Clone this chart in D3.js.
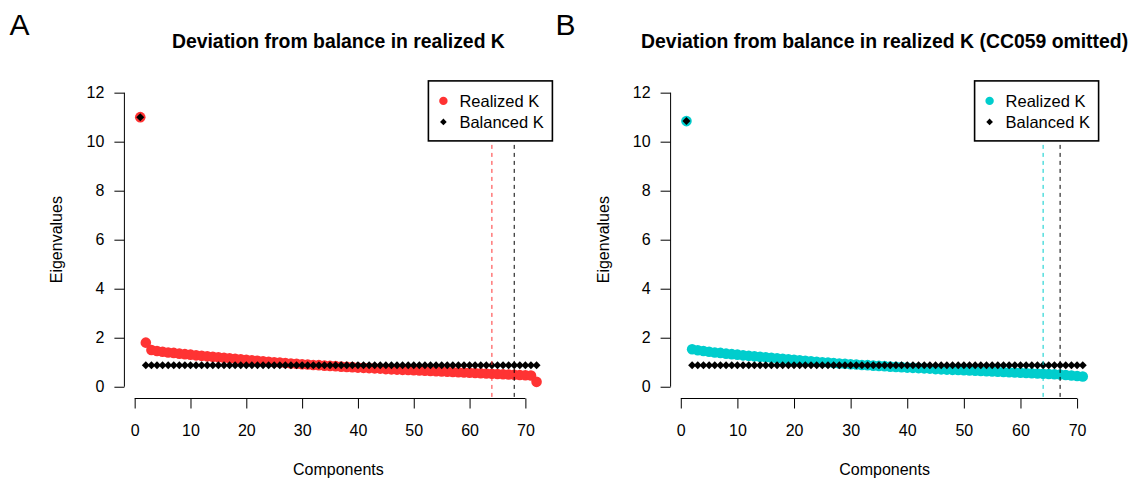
<!DOCTYPE html>
<html>
<head>
<meta charset="utf-8">
<script src="https://cdn.jsdelivr.net/npm/d3@7"></script>
<style>
  html, body { margin: 0; padding: 0; background: #fff; }
  svg { display: block; font-family: "Liberation Sans", Arial, Helvetica, sans-serif; }
</style>
</head>
<body>
<svg id="chart" width="1136" height="480"></svg>
<script>
// Eigenvalues of the realized and balanced K matrices, by component
const realizedA = [11.00, 1.80, 1.50, 1.46, 1.43, 1.40, 1.38, 1.35, 1.33, 1.31,
  1.28, 1.26, 1.24, 1.22, 1.20, 1.18, 1.16, 1.14, 1.12, 1.10,
  1.08, 1.06, 1.04, 1.02, 1.00, 0.99, 0.97, 0.95, 0.94, 0.92,
  0.91, 0.89, 0.88, 0.86, 0.85, 0.84, 0.82, 0.81, 0.80, 0.78,
  0.77, 0.76, 0.75, 0.74, 0.72, 0.71, 0.70, 0.69, 0.68, 0.67,
  0.66, 0.65, 0.64, 0.63, 0.62, 0.61, 0.60, 0.59, 0.58, 0.57,
  0.56, 0.55, 0.54, 0.53, 0.52, 0.51, 0.50, 0.49, 0.48, 0.47,
  0.46, 0.20];
const balancedA = [11.00, 0.88, 0.88, 0.88, 0.88, 0.88, 0.88, 0.88, 0.88, 0.88,
  0.88, 0.88, 0.88, 0.88, 0.88, 0.88, 0.88, 0.88, 0.88, 0.88,
  0.88, 0.88, 0.88, 0.88, 0.88, 0.88, 0.88, 0.88, 0.88, 0.88,
  0.88, 0.88, 0.88, 0.88, 0.88, 0.88, 0.88, 0.88, 0.88, 0.88,
  0.88, 0.88, 0.88, 0.88, 0.88, 0.88, 0.88, 0.88, 0.88, 0.88,
  0.88, 0.88, 0.88, 0.88, 0.88, 0.88, 0.88, 0.88, 0.88, 0.88,
  0.88, 0.88, 0.88, 0.88, 0.88, 0.88, 0.88, 0.88, 0.88, 0.88,
  0.88, 0.88];
const realizedB = [10.84, 1.53, 1.49, 1.46, 1.43, 1.40, 1.38, 1.35, 1.33, 1.31,
  1.28, 1.26, 1.24, 1.22, 1.20, 1.18, 1.16, 1.14, 1.12, 1.10,
  1.08, 1.06, 1.04, 1.02, 1.00, 0.99, 0.97, 0.95, 0.94, 0.92,
  0.91, 0.89, 0.88, 0.86, 0.85, 0.84, 0.82, 0.81, 0.80, 0.78,
  0.77, 0.76, 0.75, 0.74, 0.72, 0.71, 0.70, 0.69, 0.68, 0.67,
  0.66, 0.65, 0.64, 0.63, 0.62, 0.61, 0.60, 0.59, 0.58, 0.57,
  0.56, 0.55, 0.54, 0.53, 0.52, 0.51, 0.50, 0.48, 0.46, 0.44,
  0.42];
const balancedB = [10.84, 0.88, 0.88, 0.88, 0.88, 0.88, 0.88, 0.88, 0.88, 0.88,
  0.88, 0.88, 0.88, 0.88, 0.88, 0.88, 0.88, 0.88, 0.88, 0.88,
  0.88, 0.88, 0.88, 0.88, 0.88, 0.88, 0.88, 0.88, 0.88, 0.88,
  0.88, 0.88, 0.88, 0.88, 0.88, 0.88, 0.88, 0.88, 0.88, 0.88,
  0.88, 0.88, 0.88, 0.88, 0.88, 0.88, 0.88, 0.88, 0.88, 0.88,
  0.88, 0.88, 0.88, 0.88, 0.88, 0.88, 0.88, 0.88, 0.88, 0.88,
  0.88, 0.88, 0.88, 0.88, 0.88, 0.88, 0.88, 0.88, 0.88, 0.88,
  0.88];

// Number of components retained under each matrix (dashed markers)
const cutoffsA = [64, 68];
const cutoffsB = [64, 67];

const xTicks = [0, 10, 20, 30, 40, 50, 60, 70];
const yTicks = [0, 2, 4, 6, 8, 10, 12];
const yLimits = [0, 12];
const legendLabels = ["Realized K", "Balanced K"];

const panels = [
  { tag: "A", title: "Deviation from balance in realized K",
    realized: realizedA, balanced: balancedA, cutoffs: cutoffsA,
    color: "#ff3333", left: 124.4 },
  { tag: "B", title: "Deviation from balance in realized K (CC059 omitted)",
    realized: realizedB, balanced: balancedB, cutoffs: cutoffsB,
    color: "#00cdcd", left: 670.6 }
];

const plotW = 428, plotTop = 80.9, plotBottom = 398.5;
const svg = d3.select("#chart");

// R-style 4% padding around the data range
function padded(lo, hi) {
  const d = (hi - lo) * 0.04;
  return [lo - d, hi + d];
}

const diamond = d3.symbol().type(d3.symbolSquare).size(32);

panels.forEach(p => {
  const n = p.realized.length;
  const x = d3.scaleLinear().domain(padded(1, n)).range([p.left, p.left + plotW]);
  const y = d3.scaleLinear().domain(padded(yLimits[0], yLimits[1])).range([plotBottom, plotTop]);
  const g = svg.append("g");
  const cx = p.left + plotW / 2;

  // panel letter and title
  svg.append("text").attr("x", p.left - 115).attr("y", 35)
    .attr("font-size", 30).text(p.tag);
  svg.append("text").attr("x", cx).attr("y", 48)
    .attr("text-anchor", "middle").attr("font-size", 19.4).attr("font-weight", "bold")
    .text(p.title);

  // realized eigenvalues
  g.append("g").selectAll("circle").data(p.realized).join("circle")
    .attr("cx", (d, i) => x(i + 1)).attr("cy", d => y(d))
    .attr("r", 5.3).attr("fill", p.color);

  // balanced eigenvalues
  g.append("g").selectAll("path").data(p.balanced).join("path")
    .attr("d", diamond)
    .attr("transform", (d, i) => `translate(${x(i + 1)},${y(d)}) rotate(45)`)
    .attr("fill", "#000");

  // retained-component markers
  const lineColors = [p.color, "#000"];
  p.cutoffs.forEach((c, k) => {
    g.append("line")
      .attr("x1", x(c)).attr("x2", x(c))
      .attr("y1", plotTop).attr("y2", plotBottom)
      .attr("stroke", lineColors[k]).attr("stroke-width", 1)
      .attr("stroke-dasharray", "4,4");
  });

  // axes
  const xAxis = d3.axisBottom(x).tickValues(xTicks).tickSize(10).tickPadding(16).tickSizeOuter(0);
  const gx = svg.append("g").attr("transform", `translate(0,${plotBottom})`).call(xAxis);
  gx.select(".domain").remove();
  gx.append("line").attr("x1", x(xTicks[0])).attr("x2", x(xTicks[xTicks.length - 1]))
    .attr("stroke", "#000");

  const yAxis = d3.axisLeft(y).tickValues(yTicks).tickSize(10).tickPadding(10).tickSizeOuter(0);
  const gy = svg.append("g").attr("transform", `translate(${p.left},0)`).call(yAxis);
  gy.select(".domain").remove();
  gy.append("line").attr("y1", y(yTicks[0])).attr("y2", y(yTicks[yTicks.length - 1]))
    .attr("stroke", "#000");

  [gx, gy].forEach(a => {
    a.selectAll("text").attr("font-size", 16).attr("fill", "#000")
      .attr("font-family", "Liberation Sans, Arial, sans-serif");
    a.selectAll(".tick line").attr("stroke", "#000");
  });

  // axis titles
  svg.append("text").attr("x", cx).attr("y", 475)
    .attr("text-anchor", "middle").attr("font-size", 16).text("Components");
  svg.append("text")
    .attr("transform", `translate(${p.left - 62},${(plotTop + plotBottom) / 2}) rotate(-90)`)
    .attr("text-anchor", "middle").attr("font-size", 16).text("Eigenvalues");

  // legend
  const lw = 124, lh = 60;
  const lx = p.left + plotW - lw;
  const lg = svg.append("g").attr("transform", `translate(${lx},${plotTop})`);
  lg.append("rect").attr("width", lw).attr("height", lh)
    .attr("fill", "#fff").attr("stroke", "#000").attr("stroke-width", 1.6);
  lg.append("circle").attr("cx", 15).attr("cy", 20).attr("r", 4.2).attr("fill", p.color);
  lg.append("path").attr("d", d3.symbol().type(d3.symbolSquare).size(22))
    .attr("transform", "translate(15,41) rotate(45)").attr("fill", "#000");
  lg.selectAll("text").data(legendLabels).join("text")
    .attr("x", 31).attr("y", (d, i) => 20 + i * 21)
    .attr("dy", "0.36em").attr("font-size", 16.5).text(d => d);
});
</script>
</body>
</html>
